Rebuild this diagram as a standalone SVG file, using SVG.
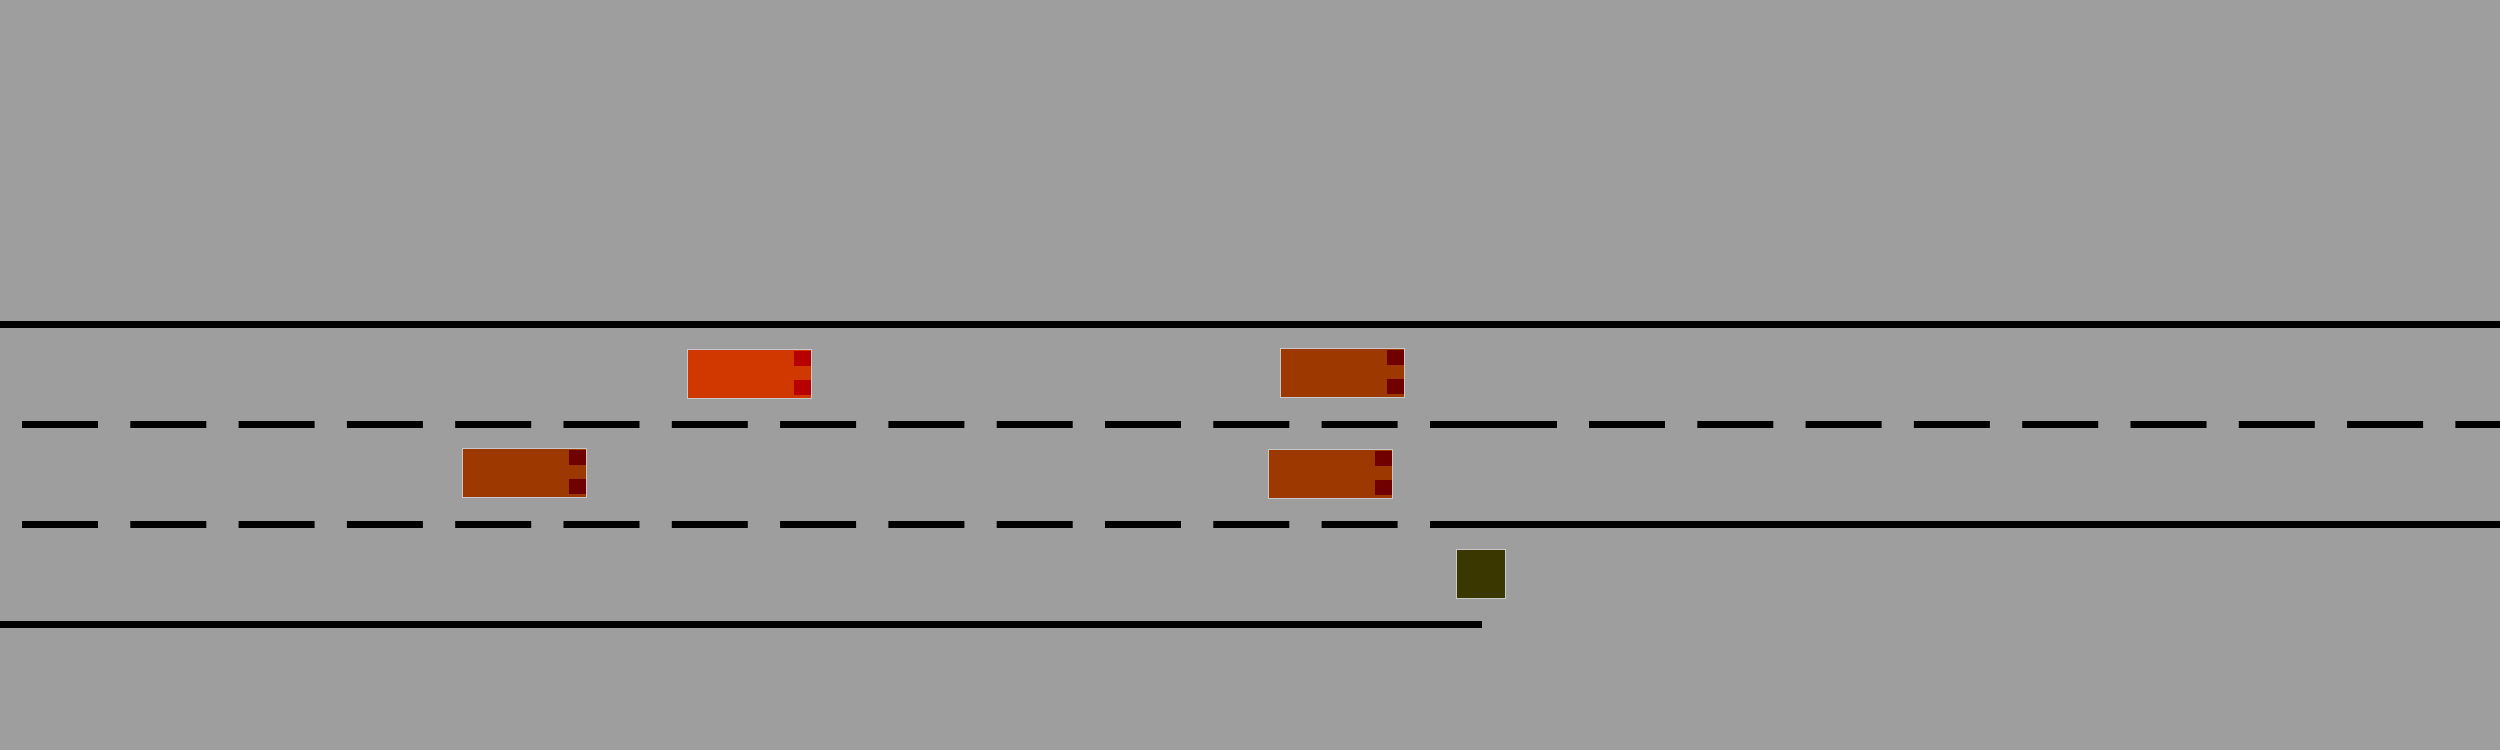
<svg xmlns="http://www.w3.org/2000/svg" width="2500" height="750" viewBox="0 0 2500 750">
<style>
.ln{stroke:#000;stroke-width:7;fill:none}
.dash{stroke-dasharray:76 32.3}
.car{stroke:#c8c8c8;stroke-width:1}
.c1{fill:#d03800}
.c1l{fill:#b80000}
.c2{fill:#9c3800}
.c2l{fill:#700000}
</style>
<rect width="2500" height="750" fill="#9e9e9e"/>
<g id="road">
<line class="ln" x1="0" y1="324.5" x2="2500" y2="324.5"/>
<line class="ln dash" x1="22" y1="424.5" x2="1398" y2="424.5"/>
<line class="ln" x1="1430" y1="424.5" x2="1557" y2="424.5"/>
<line class="ln dash" x1="1589" y1="424.5" x2="2500" y2="424.5"/>
<line class="ln dash" x1="22" y1="524.5" x2="1398" y2="524.5"/>
<line class="ln" x1="1430" y1="524.5" x2="2500" y2="524.5"/>
<line class="ln" x1="0" y1="624.5" x2="1482" y2="624.5"/>
</g>
<g id="car1">
<rect class="car c1" x="687.5" y="349.5" width="124" height="49"/>
<rect class="c1l" x="794" y="351" width="17" height="15"/>
<rect class="c1l" x="794" y="380" width="17" height="15"/>
</g>
<g id="car2">
<rect class="car c2" x="1280.5" y="348.5" width="124" height="49"/>
<rect class="c2l" x="1387" y="350" width="17" height="15"/>
<rect class="c2l" x="1387" y="379" width="17" height="15"/>
</g>
<g id="car3">
<rect class="car c2" x="1268.5" y="449.5" width="124" height="49"/>
<rect class="c2l" x="1375" y="451" width="17" height="15"/>
<rect class="c2l" x="1375" y="480" width="17" height="15"/>
</g>
<g id="car4">
<rect class="car c2" x="462.5" y="448.5" width="124" height="49"/>
<rect class="c2l" x="569" y="450" width="17" height="15"/>
<rect class="c2l" x="569" y="479" width="17" height="15"/>
</g>
<g id="obstacle">
<rect x="1456.5" y="549.5" width="49" height="49" fill="#3a3800" stroke="#c8c8c8" stroke-width="1"/>
</g>
</svg>
